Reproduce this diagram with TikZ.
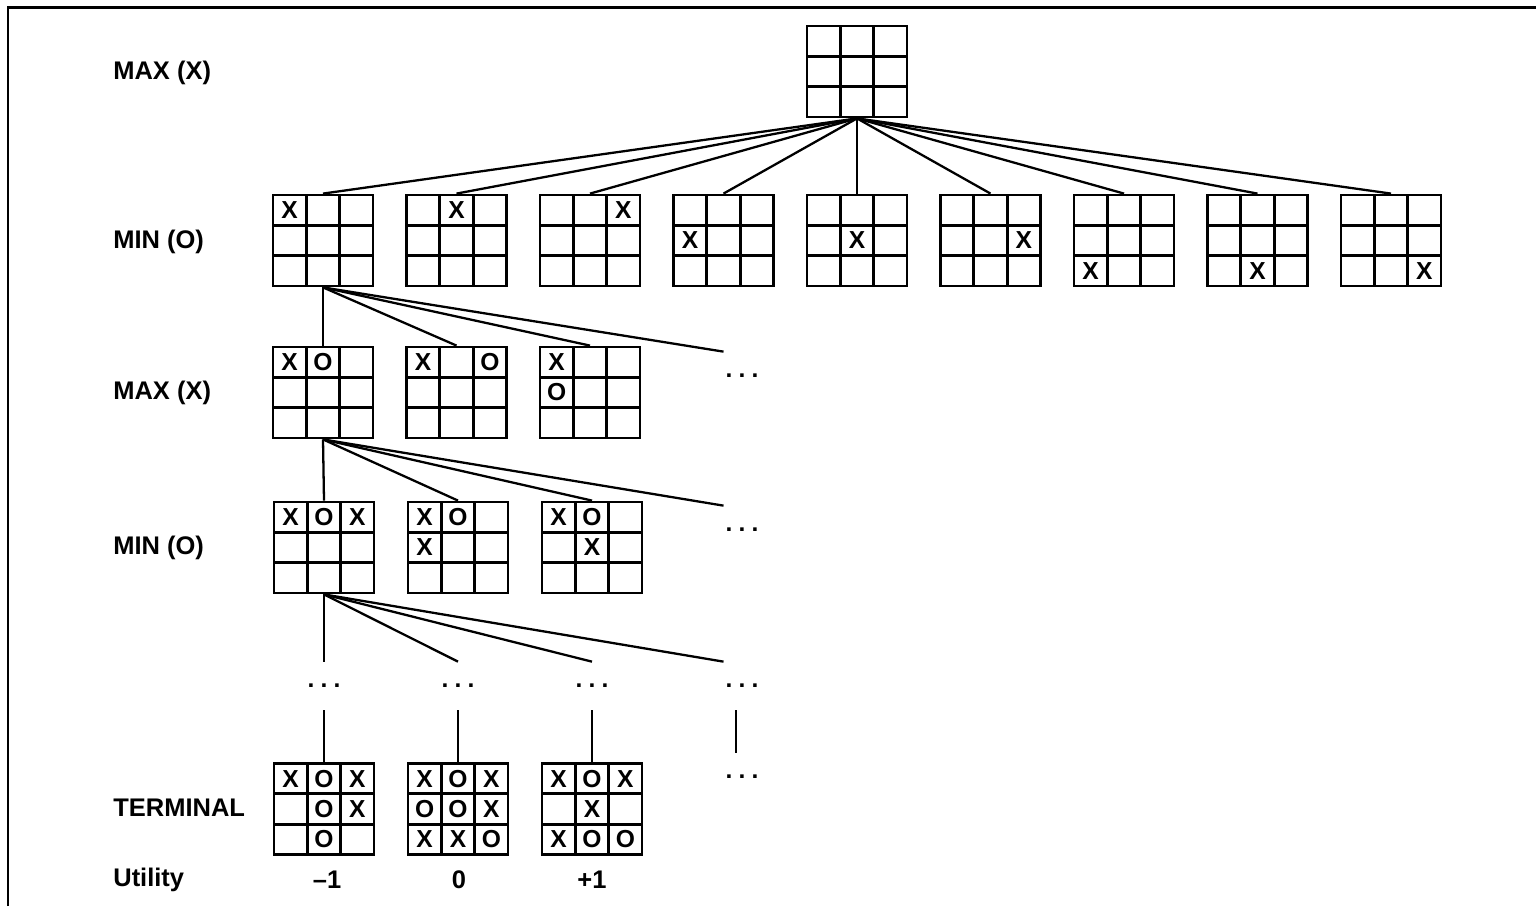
\documentclass[tikz,border=0pt]{standalone}
\usepackage{fontspec}
\setmainfont{Liberation Sans}
\newcommand{\etc}{.\hspace{3.5pt}.\hspace{3.5pt}.}
% board: name, position, cell/piece list (cells 0..8, row by row)
\newcommand{\board}[3]{%
  \node[board] (#1) at (#2) {};
  \foreach \p/\s in {#3} {
    \pgfmathtruncatemacro{\bc}{mod(\p,3)-1}
    \pgfmathtruncatemacro{\br}{1-div(\p,3)}
    \node[piece] at ([shift={(\bc*0.667,\br*0.607)}]#1.center) {\s};
  }%
}

\begin{document}
\begin{tikzpicture}[
  board/.style={
    draw,
    line width=1.6pt,
    minimum width=2cm,
    minimum height=1.82cm,
    inner sep=0pt,
    path picture={
      \draw[line width=1.6pt]
        ([shift={(-0.333,-0.91)}]path picture bounding box.center) -- ++(0,1.82)
        ([shift={(0.333,-0.91)}]path picture bounding box.center) -- ++(0,1.82)
        ([shift={(-1,-0.303)}]path picture bounding box.center) -- ++(2,0)
        ([shift={(-1,0.303)}]path picture bounding box.center) -- ++(2,0);
    }
  },
  piece/.style={font=\fontsize{14}{16}\selectfont\bfseries, inner sep=0pt},
  more/.style={font=\fontsize{14}{16}\selectfont\bfseries, minimum height=0.96cm, inner sep=1pt},
  level/.style={font=\fontsize{14.5}{17}\selectfont\bfseries, anchor=west, inner sep=0pt},
  val/.style={font=\fontsize{14.5}{17}\selectfont\bfseries, inner sep=0pt},
  edge/.style={line width=1.3pt},
  frame/.style={line width=1.7pt},
]
\useasboundingbox (0,0) rectangle (30.72,18.12);
\draw[frame] (0.16,0) -- (0.16,17.96) -- (30.72,17.96);

% Level names.
\node[level] (lmax1) at (2.26,16.66) {MAX (X)};
\node[level] (lmin1) at (2.26,13.28) {MIN (O)};
\node[level] (lmax2) at (2.26,10.26) {MAX (X)};
\node[level] (lmin2) at (2.26,7.16) {MIN (O)};
\node[level] (lterm) at (2.26,1.96) {TERMINAL};
\node[level] (util) at (2.26,0.52) {Utility};

% Root and first move of X.
\node[board] (root) at (17.14,16.69) {};
\foreach \k in {0,...,8} {
  \board{m\k}{6.46+2.67*\k,13.31}{\k/X}
  \draw[edge] (root.south) -- (m\k.north);
}

% Replies of O.
\board{a1}{6.46,10.27}{0/X,1/O}
\board{a2}{9.13,10.27}{0/X,2/O}
\board{a3}{11.80,10.27}{0/X,3/O}
\node[more] (a4) at (14.84,10.60) {\etc};

% Second move of X.
\board{b1}{6.48,7.17}{0/X,1/O,2/X}
\board{b2}{9.16,7.17}{0/X,1/O,3/X}
\board{b3}{11.84,7.17}{0/X,1/O,4/X}
\node[more] (b4) at (14.84,7.52) {\etc};

% Deeper levels.
\node[more] (d1) at (6.48,4.40) {\etc};
\node[more] (d2) at (9.16,4.40) {\etc};
\node[more] (d3) at (11.84,4.40) {\etc};
\node[more] (d4) at (14.84,4.40) {\etc};

% Terminal states.
\board{t1}{6.48,1.94}{0/X,1/O,2/X,4/O,5/X,7/O}
\board{t2}{9.16,1.94}{0/X,1/O,2/X,3/O,4/O,5/X,6/X,7/X,8/O}
\board{t3}{11.84,1.94}{0/X,1/O,2/X,4/X,6/X,7/O,8/O}
\node[more] (t4) at (14.84,2.58) {\etc};

\node[val] (u1) at (6.54,0.52) {--1};
\node[val] (u2) at (9.18,0.52) {0};
\node[val] (u3) at (11.84,0.52) {+1};

% Tree edges.
\foreach \n in {a1,a2,a3} \draw[edge] (m0.south) -- (\n.north);
\draw[edge] (m0.south) -- (a4.north west);
\foreach \n in {b1,b2,b3} \draw[edge] (a1.south) -- (\n.north);
\draw[edge] (a1.south) -- (b4.north west);
\foreach \n in {d1,d2,d3} \draw[edge] (b1.south) -- (\n.north);
\draw[edge] (b1.south) -- (d4.north west);
\draw[edge] (d1.south) -- (t1.north);
\draw[edge] (d2.south) -- (t2.north);
\draw[edge] (d3.south) -- (t3.north);
\draw[edge] ([xshift=-0.12cm]d4.south) -- ([xshift=-0.12cm]t4.north);

\end{tikzpicture}
\end{document}
